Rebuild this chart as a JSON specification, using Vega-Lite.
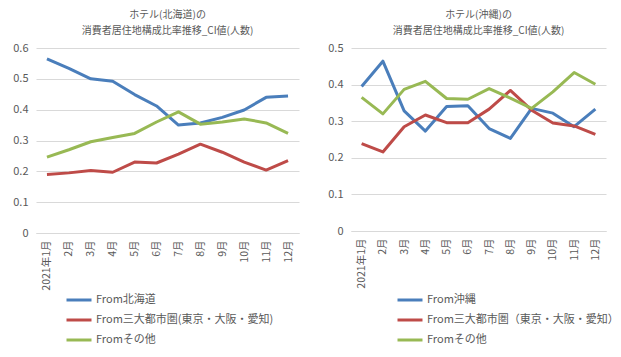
{
  "$schema": "https://vega.github.io/schema/vega-lite/v6.json",
  "padding": {"left": 12, "top": 10, "right": 5, "bottom": 5},
  "datasets": {
    "hokkaido": [
      {"month": "2021年1月", "series": "From北海道", "value": 0.565},
      {"month": "2月", "series": "From北海道", "value": 0.534},
      {"month": "3月", "series": "From北海道", "value": 0.5},
      {"month": "4月", "series": "From北海道", "value": 0.492},
      {"month": "5月", "series": "From北海道", "value": 0.449},
      {"month": "6月", "series": "From北海道", "value": 0.412},
      {"month": "7月", "series": "From北海道", "value": 0.35},
      {"month": "8月", "series": "From北海道", "value": 0.357},
      {"month": "9月", "series": "From北海道", "value": 0.375},
      {"month": "10月", "series": "From北海道", "value": 0.399},
      {"month": "11月", "series": "From北海道", "value": 0.44},
      {"month": "12月", "series": "From北海道", "value": 0.444},
      {"month": "2021年1月", "series": "From三大都市圏(東京・大阪・愛知)", "value": 0.19},
      {"month": "2月", "series": "From三大都市圏(東京・大阪・愛知)", "value": 0.195},
      {"month": "3月", "series": "From三大都市圏(東京・大阪・愛知)", "value": 0.203},
      {"month": "4月", "series": "From三大都市圏(東京・大阪・愛知)", "value": 0.197},
      {"month": "5月", "series": "From三大都市圏(東京・大阪・愛知)", "value": 0.23},
      {"month": "6月", "series": "From三大都市圏(東京・大阪・愛知)", "value": 0.227},
      {"month": "7月", "series": "From三大都市圏(東京・大阪・愛知)", "value": 0.256},
      {"month": "8月", "series": "From三大都市圏(東京・大阪・愛知)", "value": 0.288},
      {"month": "9月", "series": "From三大都市圏(東京・大阪・愛知)", "value": 0.262},
      {"month": "10月", "series": "From三大都市圏(東京・大阪・愛知)", "value": 0.23},
      {"month": "11月", "series": "From三大都市圏(東京・大阪・愛知)", "value": 0.204},
      {"month": "12月", "series": "From三大都市圏(東京・大阪・愛知)", "value": 0.235},
      {"month": "2021年1月", "series": "Fromその他", "value": 0.246},
      {"month": "2月", "series": "Fromその他", "value": 0.27},
      {"month": "3月", "series": "Fromその他", "value": 0.296},
      {"month": "4月", "series": "Fromその他", "value": 0.31},
      {"month": "5月", "series": "Fromその他", "value": 0.323},
      {"month": "6月", "series": "Fromその他", "value": 0.36},
      {"month": "7月", "series": "Fromその他", "value": 0.393},
      {"month": "8月", "series": "Fromその他", "value": 0.353},
      {"month": "9月", "series": "Fromその他", "value": 0.36},
      {"month": "10月", "series": "Fromその他", "value": 0.37},
      {"month": "11月", "series": "Fromその他", "value": 0.357},
      {"month": "12月", "series": "Fromその他", "value": 0.323}
    ],
    "okinawa": [
      {"month": "2021年1月", "series": "From沖縄", "value": 0.395},
      {"month": "2月", "series": "From沖縄", "value": 0.464},
      {"month": "3月", "series": "From沖縄", "value": 0.328},
      {"month": "4月", "series": "From沖縄", "value": 0.273},
      {"month": "5月", "series": "From沖縄", "value": 0.34},
      {"month": "6月", "series": "From沖縄", "value": 0.342},
      {"month": "7月", "series": "From沖縄", "value": 0.28},
      {"month": "8月", "series": "From沖縄", "value": 0.253},
      {"month": "9月", "series": "From沖縄", "value": 0.335},
      {"month": "10月", "series": "From沖縄", "value": 0.322},
      {"month": "11月", "series": "From沖縄", "value": 0.285},
      {"month": "12月", "series": "From沖縄", "value": 0.333},
      {"month": "2021年1月", "series": "From三大都市圏（東京・大阪・愛知）", "value": 0.239},
      {"month": "2月", "series": "From三大都市圏（東京・大阪・愛知）", "value": 0.216},
      {"month": "3月", "series": "From三大都市圏（東京・大阪・愛知）", "value": 0.285},
      {"month": "4月", "series": "From三大都市圏（東京・大阪・愛知）", "value": 0.317},
      {"month": "5月", "series": "From三大都市圏（東京・大阪・愛知）", "value": 0.296},
      {"month": "6月", "series": "From三大都市圏（東京・大阪・愛知）", "value": 0.296},
      {"month": "7月", "series": "From三大都市圏（東京・大阪・愛知）", "value": 0.333},
      {"month": "8月", "series": "From三大都市圏（東京・大阪・愛知）", "value": 0.384},
      {"month": "9月", "series": "From三大都市圏（東京・大阪・愛知）", "value": 0.33},
      {"month": "10月", "series": "From三大都市圏（東京・大阪・愛知）", "value": 0.295},
      {"month": "11月", "series": "From三大都市圏（東京・大阪・愛知）", "value": 0.287},
      {"month": "12月", "series": "From三大都市圏（東京・大阪・愛知）", "value": 0.264},
      {"month": "2021年1月", "series": "Fromその他", "value": 0.365},
      {"month": "2月", "series": "Fromその他", "value": 0.32},
      {"month": "3月", "series": "Fromその他", "value": 0.387},
      {"month": "4月", "series": "Fromその他", "value": 0.409},
      {"month": "5月", "series": "Fromその他", "value": 0.362},
      {"month": "6月", "series": "Fromその他", "value": 0.36},
      {"month": "7月", "series": "Fromその他", "value": 0.389},
      {"month": "8月", "series": "Fromその他", "value": 0.363},
      {"month": "9月", "series": "Fromその他", "value": 0.335},
      {"month": "10月", "series": "Fromその他", "value": 0.38},
      {"month": "11月", "series": "Fromその他", "value": 0.433},
      {"month": "12月", "series": "Fromその他", "value": 0.401}
    ]
  },
  "hconcat": [
    {
      "width": 263,
      "height": 185,
      "data": {"name": "hokkaido"},
      "title": {"text": ["ホテル(北海道)の", "消費者居住地構成比率推移_CI値(人数)"]},
      "mark": {"type": "line", "strokeWidth": 3, "strokeJoin": "round"},
      "encoding": {
        "x": {
          "field": "month", "type": "ordinal",
          "sort": ["2021年1月","2月","3月","4月","5月","6月","7月","8月","9月","10月","11月","12月"],
          "scale": {"type": "point", "padding": 0.5},
          "axis": {"labelAngle": -90, "grid": false, "labelPadding": 7}
        },
        "y": {
          "field": "value", "type": "quantitative",
          "scale": {"domain": [0, 0.6]},
          "axis": {"values": [0,0.1,0.2,0.3,0.4,0.5,0.6], "format": "~g", "domain": false}
        },
        "color": {
          "field": "series", "type": "nominal",
          "scale": {"domain": ["From北海道","From三大都市圏(東京・大阪・愛知)","Fromその他"], "range": ["#4A7EBB","#BE4B48","#98B954"]},
          "legend": {"orient": "none", "legendX": 29, "legendY": 238}
        }
      }
    },
    {
      "width": 255,
      "height": 183,
      "data": {"name": "okinawa"},
      "title": {"text": ["ホテル(沖縄)の", "消費者居住地構成比率推移_CI値(人数)"]},
      "mark": {"type": "line", "strokeWidth": 3, "strokeJoin": "round"},
      "encoding": {
        "x": {
          "field": "month", "type": "ordinal",
          "sort": ["2021年1月","2月","3月","4月","5月","6月","7月","8月","9月","10月","11月","12月"],
          "scale": {"type": "point", "padding": 0.5},
          "axis": {"labelAngle": -90, "grid": false, "labelPadding": 7}
        },
        "y": {
          "field": "value", "type": "quantitative",
          "scale": {"domain": [0, 0.5]},
          "axis": {"values": [0,0.1,0.2,0.3,0.4,0.5], "format": "~g", "domain": false}
        },
        "color": {
          "field": "series", "type": "nominal",
          "scale": {"domain": ["From沖縄","From三大都市圏（東京・大阪・愛知）","Fromその他"], "range": ["#4A7EBB","#BE4B48","#98B954"]},
          "legend": {"orient": "none", "legendX": 45, "legendY": 238}
        }
      }
    }
  ],
  "spacing": 28,
  "resolve": {"scale": {"color": "independent", "y": "independent"}, "legend": {"color": "independent"}},
  "config": {
    "font": "Noto Sans CJK JP",
    "view": {"stroke": null},
    "title": {"fontSize": 10, "fontWeight": "normal", "color": "#595959", "lineHeight": 16, "offset": 6},
    "axis": {"labelColor": "#595959", "labelFontSize": 10.5, "gridColor": "#D9D9D9", "domainColor": "#D9D9D9", "ticks": false, "title": null, "labelPadding": 8},
    "axisY": {"labelFontSize": 11},
    "legend": {"title": null, "symbolType": "stroke", "symbolStrokeWidth": 3, "symbolSize": 625, "labelFontSize": 11, "labelColor": "#595959", "rowPadding": -1, "labelOffset": 3, "labelLimit": 0, "direction": "vertical"}
  }
}
